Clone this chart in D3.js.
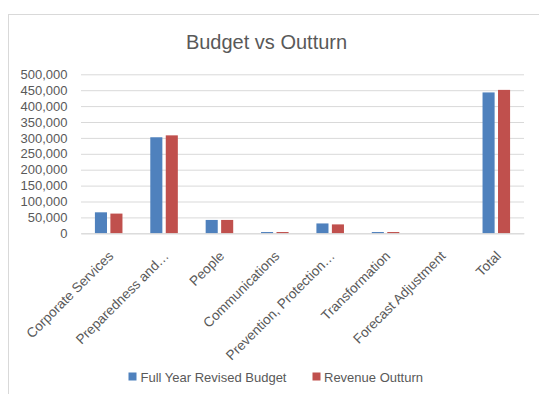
<!DOCTYPE html>
<html>
<head>
<meta charset="utf-8">
<script src="https://cdn.jsdelivr.net/npm/d3@7"></script>
<style>
  html, body { margin: 0; padding: 0; background: #fff; }
  svg { display: block; font-family: "Liberation Sans", Arial, sans-serif; }
</style>
</head>
<body>
<svg id="chart" width="539" height="394"></svg>
<script>
const categories = ["Corporate Services", "Preparedness and\u2026", "People", "Communications",
  "Prevention, Protection\u2026", "Transformation", "Forecast Adjustment", "Total"];
const budget = [66000, 302000, 42000, 4000, 31000, 4000, 0, 443000];
const outturn = [62000, 308000, 42000, 4000, 28000, 4000, 0, 451000];
const seriesNames = ["Full Year Revised Budget", "Revenue Outturn"];
const seriesColors = ["#4f81bd", "#c0504d"];
const yTicks = [0, 50000, 100000, 150000, 200000, 250000, 300000, 350000, 400000, 450000, 500000];

const svg = d3.select("#chart");
const textColor = "#595959";
const gridColor = "#d9d9d9";
const font = "Liberation Sans, Arial, sans-serif";

// chart area frame
svg.append("rect")
  .attr("x", 8.5).attr("y", 14.5)
  .attr("width", 540).attr("height", 400)
  .attr("fill", "#fff").attr("stroke", gridColor);

const plot = { left: 81, right: 524, top: 74.3, bottom: 233.3 };

const x = d3.scaleBand().domain(categories).range([plot.left, plot.right]);
const y = d3.scaleLinear().domain([0, 500000]).range([plot.bottom, plot.top]);

// title
svg.append("text")
  .attr("x", 266.5).attr("y", 48.5)
  .attr("text-anchor", "middle")
  .attr("font-size", 20)
  .attr("fill", textColor)
  .text("Budget vs Outturn");

// gridlines + y labels
const yAxis = d3.axisLeft(y).tickValues(yTicks)
  .tickSize(-(plot.right - plot.left))
  .tickPadding(13.5)
  .tickFormat(d3.format(","));
const gy = svg.append("g").attr("transform", `translate(${plot.left},0)`).call(yAxis);
gy.select(".domain").remove();
gy.selectAll(".tick line").attr("stroke", gridColor);
gy.selectAll(".tick text").attr("fill", textColor).attr("font-size", 13)
  .attr("font-family", font);

// bars
const barW = x.bandwidth() * 0.218;
const innerGap = 3.4;
const series = [budget, outturn];
series.forEach((vals, si) => {
  svg.append("g").selectAll("rect")
    .data(vals.map((v, i) => ({ c: categories[i], v })))
    .join("rect")
    .attr("x", d => x(d.c) + x.bandwidth() / 2 + (si === 0 ? -(barW + innerGap / 2) : innerGap / 2))
    .attr("y", d => y(d.v))
    .attr("width", barW)
    .attr("height", d => y(0) - y(d.v))
    .attr("fill", seriesColors[si]);
});

// category axis
const xAxis = d3.axisBottom(x).tickSize(0).tickPadding(0);
const gx = svg.append("g").attr("transform", `translate(0,${plot.bottom})`).call(xAxis);
gx.select(".domain").attr("stroke", gridColor);
gx.selectAll(".tick text")
  .attr("fill", textColor).attr("font-size", 13.6)
  .attr("font-family", font)
  .attr("text-anchor", "end")
  .attr("dy", null).attr("y", 0)
  .attr("transform", "translate(3,21) rotate(-45)")
  .attr("dominant-baseline", "middle");

// legend
const legend = svg.append("g");
const legendItems = [{ x: 128.5, tx: 140.5 }, { x: 312.5, tx: 324 }];
seriesNames.forEach((name, i) => {
  legend.append("rect").attr("x", legendItems[i].x).attr("y", 372.5)
    .attr("width", 8).attr("height", 8).attr("fill", seriesColors[i]);
  legend.append("text").attr("x", legendItems[i].tx).attr("y", 381.5)
    .attr("font-size", 13).attr("fill", textColor).attr("font-family", font).text(name);
});
</script>
</body>
</html>
